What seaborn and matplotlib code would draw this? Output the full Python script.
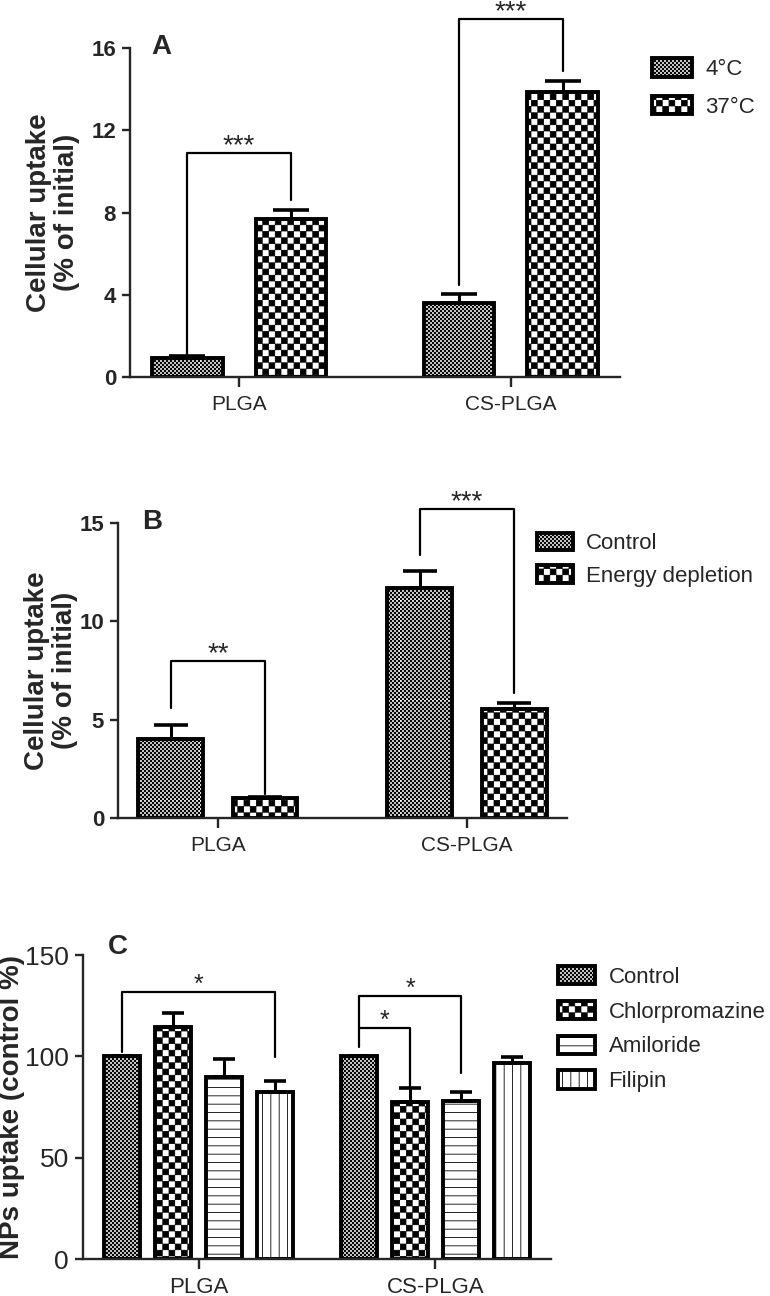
"""Cellular uptake of PLGA / CS-PLGA nanoparticles (panels A-C)"""

import warnings
import numpy as np
import pandas as pd
import matplotlib
matplotlib.use("Agg")
import matplotlib.pyplot as plt
import matplotlib.hatch as mhatch
import matplotlib.patches as mpatches
from matplotlib.path import Path
import seaborn as sns

warnings.filterwarnings("ignore")

GROUPS = ["PLGA", "CS-PLGA"]

# Panel A: temperature
A_LEVELS = ["4°C", "37°C"]
A_MEAN_4C = [0.95, 3.6]
A_ERR_4C = [0.1, 0.45]
A_MEAN_37C = [7.7, 13.85]
A_ERR_37C = [0.45, 0.55]

# Panel B: energy depletion
B_LEVELS = ["Control", "Energy depletion"]
B_MEAN_CTRL = [4.0, 11.7]
B_ERR_CTRL = [0.75, 0.85]
B_MEAN_ENERGY = [1.0, 5.55]
B_ERR_ENERGY = [0.08, 0.3]

# Panel C: endocytosis inhibitors
C_LEVELS = ["Control", "Chlorpromazine", "Amiloride", "Filipin"]
C_MEAN_CTRL = [100, 100]
C_ERR_CTRL = [0, 0]
C_MEAN_CPZ = [114.5, 77.5]
C_ERR_CPZ = [7, 7]
C_MEAN_AMI = [89.8, 78]
C_ERR_AMI = [9, 4.3]
C_MEAN_FIL = [82.4, 96.7]
C_ERR_FIL = [5.4, 2.9]

# significance brackets: (group, bar a, bar b, bracket top, end a, end b, label)
A_SIG = [(0, 0, 1, 10.9, 1.05, 8.6, "***"), (1, 0, 1, 17.4, 4.5, 14.9, "***")]
B_SIG = [(0, 0, 1, 8.0, 5.6, 1.2, "**"), (1, 0, 1, 15.7, 13.4, 6.35, "***")]
C_SIG = [(0, 0, 3, 131.7, 102, 99.6, "*"), (1, 0, 1, 114, 104.5, 85, "*"),
         (1, 0, 2, 130, 114, 92, "*")]


# checkerboard hatches: 'k' coarse, 'g' fine
class Checker(mhatch.HatchPatternBase):
    def __init__(self, hatch, density):
        self.n = 16 if "k" in hatch else (50 if "g" in hatch else 0)
        self.num_vertices = 5 * (self.n * self.n // 2)

    def set_vertices_and_codes(self, vertices, codes):
        s = 1.0 / self.n
        shrink = 0.006
        sq = np.array([[0, 0], [1, 0], [1, 1], [0, 1], [0, 0]]) * (s - shrink) + shrink / 2
        cells = [(i, j) for i in range(self.n) for j in range(self.n) if (i + j) % 2 == 0]
        vertices[:] = np.concatenate([sq + [i * s, j * s] for i, j in cells])
        codes[:] = np.tile([Path.MOVETO, Path.LINETO, Path.LINETO, Path.LINETO,
                            Path.CLOSEPOLY], len(cells))


mhatch._hatch_types.append(Checker)

sns.set_style("ticks")
plt.rcParams["font.family"] = ["Liberation Sans", "DejaVu Sans"]
plt.rcParams["hatch.linewidth"] = 0.6
plt.rcParams["hatch.color"] = "black"


def draw_panel(ax, levels, means, errs, hatches, width, gap, capsize):
    df = pd.DataFrame({
        "group": GROUPS * len(levels),
        "level": [lv for lv in levels for _ in GROUPS],
        "value": [v for m in means for v in m],
    })
    sns.barplot(data=df, x="group", y="value", hue="level", order=GROUPS,
                hue_order=levels, palette=["white"] * len(levels),
                edgecolor="black", linewidth=2.8, width=width, gap=gap,
                errorbar=None, legend=False, ax=ax)
    centers = []
    for cont, hatch, m, e in zip(ax.containers, hatches, means, errs):
        bars = sorted(cont, key=lambda b: b.get_x())
        xs = []
        for bar in bars:
            bar.set_hatch(hatch)
            xs.append(bar.get_x() + bar.get_width() / 2)
        ax.errorbar(xs, m, yerr=[np.zeros(len(e)), e], fmt="none", ecolor="black",
                    elinewidth=2.2, capsize=capsize, capthick=2.6, zorder=3)
        centers.append(xs)
    return centers


def draw_brackets(ax, centers, sigs, fontsize):
    for g, a, b, top, ya, yb, label in sigs:
        xa, xb = centers[a][g], centers[b][g]
        ax.plot([xa, xa, xb, xb], [ya, top, top, yb], color="black", lw=1.6,
                clip_on=False, zorder=4)
        ax.text((xa + xb) / 2, top, label, ha="center", va="baseline",
                fontsize=fontsize, clip_on=False)


def style_axes(ax, ylim, yticks, ylabel, label_x, ytick_size, xtick_size, bold):
    ax.set_ylim(*ylim)
    ax.set_yticks(yticks)
    ax.set_xlabel("")
    ax.set_ylabel(ylabel, fontsize=20, fontweight="bold", linespacing=1.1)
    ax.yaxis.set_label_coords(label_x, 0.5)
    sns.despine(ax=ax)
    for s in ("left", "bottom"):
        ax.spines[s].set_linewidth(1.7)
    ax.tick_params(axis="y", length=6, width=1.7, pad=4, labelsize=ytick_size)
    ax.tick_params(axis="x", length=7, width=1.7, pad=6, labelsize=xtick_size)
    if bold:
        for t in ax.get_yticklabels():
            t.set_fontweight("bold")


def add_legend(ax, levels, hatches, anchor, hl, hh, spacing):
    handles = [mpatches.Patch(facecolor="white", edgecolor="black", linewidth=2.8,
                              hatch=h, label=lv) for h, lv in zip(hatches, levels)]
    ax.legend(handles=handles, loc="upper left", bbox_to_anchor=anchor,
              bbox_transform=fig.transFigure, frameon=False, fontsize=16,
              handlelength=hl, handleheight=hh, handletextpad=0.6,
              labelspacing=spacing, borderpad=0, borderaxespad=0)


fig = plt.figure(figsize=(7.7, 12.96), dpi=100)

# Panel A
ax_a = fig.add_axes([0.1688, 0.709, 0.6364, 0.2539])
hatch_a = ["ggg", "k"]
cent_a = draw_panel(ax_a, A_LEVELS, [A_MEAN_4C, A_MEAN_37C], [A_ERR_4C, A_ERR_37C],
                    hatch_a, 0.76, 0.32, 13)
style_axes(ax_a, (0, 16), [0, 4, 8, 12, 16], "Cellular uptake\n(% of initial)",
           -0.102, 16, 15, True)
draw_brackets(ax_a, cent_a, A_SIG, 20)
add_legend(ax_a, A_LEVELS, hatch_a, (0.847, 0.955), 1.8, 0.9, 0.7)
fig.text(0.197, 0.9637, "A", fontsize=20, fontweight="bold", va="center")

# Panel B
ax_b = fig.add_axes([0.1532, 0.3688, 0.5831, 0.2276])
hatch_b = ["ggg", "k"]
cent_b = draw_panel(ax_b, B_LEVELS, [B_MEAN_CTRL, B_MEAN_ENERGY],
                    [B_ERR_CTRL, B_ERR_ENERGY], hatch_b, 0.76, 0.32, 12)
style_axes(ax_b, (0, 15), [0, 5, 10, 15], "Cellular uptake\n(% of initial)",
           -0.089, 16, 15, True)
draw_brackets(ax_b, cent_b, B_SIG, 20)
add_legend(ax_b, B_LEVELS, hatch_b, (0.697, 0.5887), 1.62, 0.81, 0.5)
fig.text(0.1844, 0.5972, "B", fontsize=20, fontweight="bold", va="center")

# Panel C
ax_c = fig.add_axes([0.1078, 0.0285, 0.6078, 0.2346])
hatch_c = ["ggg", "k", "--", "||"]
cent_c = draw_panel(ax_c, C_LEVELS, [C_MEAN_CTRL, C_MEAN_CPZ, C_MEAN_AMI, C_MEAN_FIL],
                    [C_ERR_CTRL, C_ERR_CPZ, C_ERR_AMI, C_ERR_FIL], hatch_c, 0.86, 0.3, 8)
style_axes(ax_c, (0, 150), [0, 50, 100, 150], "NPs uptake (control %)",
           -0.124, 19, 16, False)
draw_brackets(ax_c, cent_c, C_SIG, 18)
add_legend(ax_c, C_LEVELS, hatch_c, (0.7247, 0.2546), 1.67, 0.9, 0.58)
fig.text(0.1403, 0.2693, "C", fontsize=20, fontweight="bold", va="center")

fig.savefig("out.png", dpi=100)
